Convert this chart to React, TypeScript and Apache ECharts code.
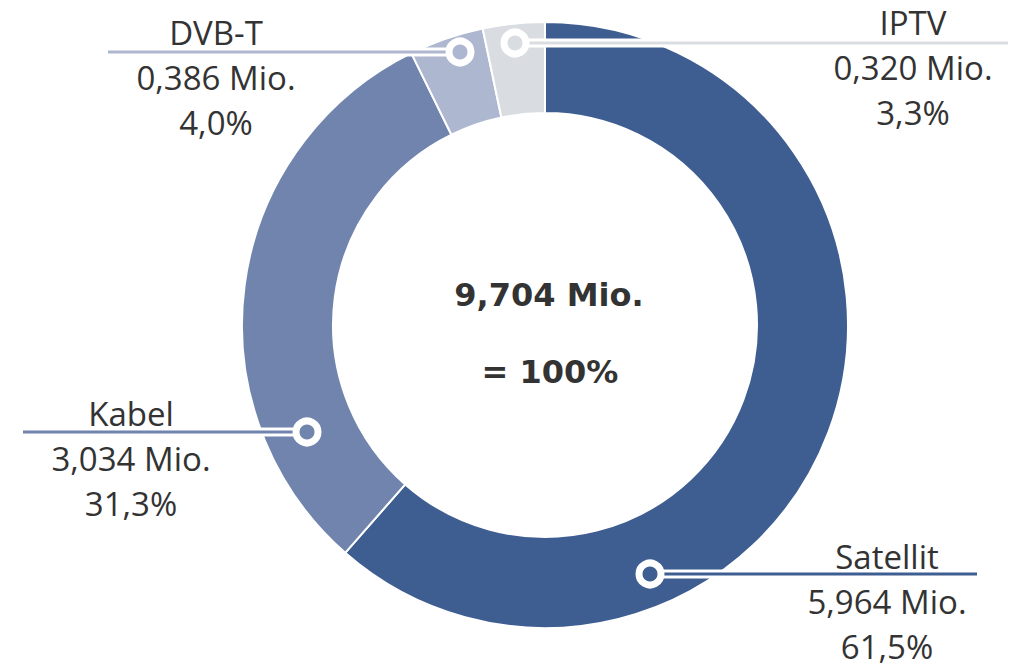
import React, { useEffect, useRef } from "react";
import * as echarts from "echarts";

const CATEGORIES = ["Satellit", "Kabel", "DVB-T", "IPTV"];
const VALUES = [5.964, 3.034, 0.386, 0.32];
const COLORS = ["#3E5D91", "#7084AD", "#AEB7D0", "#D9DDE1"];

// layout (pixels)
const CENTER = [545, 325];
const RADII = [212, 303];
const LABEL_POS = [
  [887, 601],
  [131, 458],
  [216, 77],
  [913, 67],
];
const MARKERS = [
  [650, 574],
  [307, 432],
  [460, 52],
  [515, 43],
];
const LINE_END_X = [977, 23, 108, 1008];

const fmt = (v: number, d: number) => v.toFixed(d).replace(".", ",");

export default function App() {
  const ref = useRef<HTMLDivElement>(null);
  useEffect(() => {
    if (!ref.current) return;
    const chart = echarts.init(ref.current, undefined, { renderer: "svg" });
    const total = VALUES.reduce((a, b) => a + b, 0);
    const graphics: any[] = [];
    MARKERS.forEach((m, i) => {
      graphics.push({
        type: "line",
        z: 100,
        shape: { x1: m[0], y1: m[1], x2: LINE_END_X[i], y2: m[1] },
        style: { stroke: "#ffffff", lineWidth: 9 },
      });
    });
    MARKERS.forEach((m, i) => {
      graphics.push({
        type: "line",
        z: 101,
        shape: { x1: m[0], y1: m[1], x2: LINE_END_X[i], y2: m[1] },
        style: { stroke: COLORS[i], lineWidth: 3 },
      });
      graphics.push({
        type: "circle",
        z: 102,
        shape: { cx: m[0], cy: m[1], r: 11 },
        style: { fill: COLORS[i], stroke: "#ffffff", lineWidth: 7 },
      });
    });
    graphics.push({
      type: "text",
      z: 100,
      x: 549,
      y: 295,
      style: {
        text: fmt(total, 3) + " Mio.",
        fill: "#333333",
        font: "bold 32px 'DejaVu Sans'",
        textAlign: "center",
        textVerticalAlign: "middle",
      },
    });
    graphics.push({
      type: "text",
      z: 100,
      x: 550,
      y: 372,
      style: {
        text: "= 100%",
        fill: "#333333",
        font: "bold 32px 'DejaVu Sans'",
        textAlign: "center",
        textVerticalAlign: "middle",
      },
    });

    chart.setOption({
      animation: false,
      backgroundColor: "#ffffff",
      series: [
        {
          type: "pie",
          center: CENTER,
          radius: RADII,
          startAngle: 90,
          clockwise: true,
          avoidLabelOverlap: false,
          itemStyle: { borderColor: "#ffffff", borderWidth: 2 },
          label: {
            show: true,
            position: "outside",
            fontFamily: "'Open Sans'",
            fontSize: 33,
            lineHeight: 45,
            color: "#333333",
            formatter: (p: any) =>
              p.name +
              "\n" +
              fmt(p.value, 3) +
              " Mio.\n" +
              fmt((p.value / total) * 100, 1) +
              "%",
          },
          labelLine: { show: false },
          labelLayout: (p: any) => {
            const pos = LABEL_POS[p.dataIndex];
            return {
              x: pos[0],
              y: pos[1],
              align: "center",
              verticalAlign: "middle",
              hideOverlap: false,
            };
          },
          emphasis: { disabled: true },
          data: CATEGORIES.map((c, i) => ({
            name: c,
            value: VALUES[i],
            itemStyle: { color: COLORS[i] },
          })),
        },
      ],
      graphic: graphics,
    });
    return () => chart.dispose();
  }, []);
  return (
    <div
      ref={ref}
      style={{ position: "fixed", left: 0, top: 0, width: 1012, height: 663 }}
    />
  );
}
